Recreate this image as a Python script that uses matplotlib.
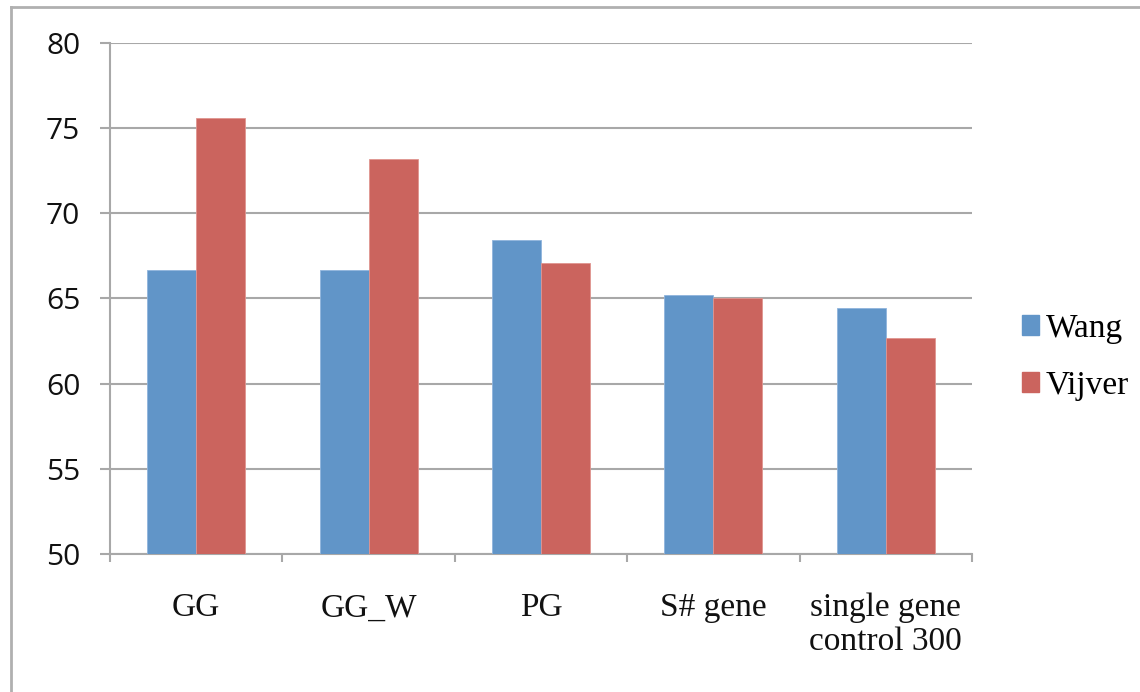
import numpy as np
import matplotlib
matplotlib.use("Agg")
import matplotlib.pyplot as plt
from matplotlib.lines import Line2D
from matplotlib.patches import Patch

CATEGORIES = ["GG", "GG_W", "PG", "S# gene", "single gene\ncontrol 300"]
WANG       = [66.65, 66.65, 68.42, 65.18, 64.44]
VIJVER     = [75.59, 73.19, 67.07, 65.04, 62.68]
Y_TICKS    = [50, 55, 60, 65, 70, 75, 80]

WANG_COLOR   = "#6195c8"
VIJVER_COLOR = "#cb645e"
GRID_COLOR   = "#a8a8a8"

fig = plt.figure(figsize=(11.4, 6.92), dpi=100)
ax = fig.add_axes([0.0965, 0.1994, 0.7561, 0.7385])

x = np.arange(len(CATEGORIES))
w = 0.284
ax.bar(x - w / 2, WANG, w, color=WANG_COLOR, edgecolor="#8fb4dc", linewidth=0.6,
       label="Wang", zorder=3)
ax.bar(x + w / 2, VIJVER, w, color=VIJVER_COLOR, edgecolor="#e09590", linewidth=0.6,
       label="Vijver", zorder=3)

ax.set_ylim(50, 80)
ax.set_xlim(-0.5, len(CATEGORIES) - 0.5)
ax.set_yticks(Y_TICKS)
ax.yaxis.grid(True, color=GRID_COLOR, linewidth=1.5, zorder=0)
ax.set_axisbelow(True)

for side in ["top", "right"]:
    ax.spines[side].set_visible(False)
for side in ["left", "bottom"]:
    ax.spines[side].set_color(GRID_COLOR)
    ax.spines[side].set_linewidth(1.5)

ax.tick_params(axis="y", length=7.5, width=1.5, color=GRID_COLOR, pad=14,
               labelsize=21.5, labelcolor="#111111")
for lbl in ax.get_yticklabels():
    lbl.set_fontfamily("Open Sans")

# category labels centred, tick marks at the category boundaries
ax.set_xticks(x)
ax.set_xticklabels(CATEGORIES, fontfamily="Liberation Serif", fontsize=24,
                   linespacing=1.15, color="#111111")
ax.tick_params(axis="x", which="major", length=0, pad=28)
ax.set_xticks(np.arange(len(CATEGORIES) + 1) - 0.5, minor=True)
ax.tick_params(axis="x", which="minor", length=6, width=1.5, color=GRID_COLOR)

fig.legend(handles=[Patch(color=WANG_COLOR, label="Wang"),
                    Patch(color=VIJVER_COLOR, label="Vijver")],
           loc="center left", bbox_to_anchor=(0.8965, 0.484), frameon=False,
           prop={"family": "Liberation Serif", "size": 24},
           handlelength=0.52, handleheight=0.52, handletextpad=0.2,
           labelspacing=0.8, borderpad=0, borderaxespad=0)

# outer chart-area frame (top and left edges)
fig.add_artist(Line2D([0.0096, 1.0], [0.9906, 0.9906], color="#b0b0b0",
                      linewidth=2, transform=fig.transFigure))
fig.add_artist(Line2D([0.0096, 0.0096], [0.0, 0.9906], color="#b0b0b0",
                      linewidth=2, transform=fig.transFigure))

fig.savefig("out.png", dpi=100)
